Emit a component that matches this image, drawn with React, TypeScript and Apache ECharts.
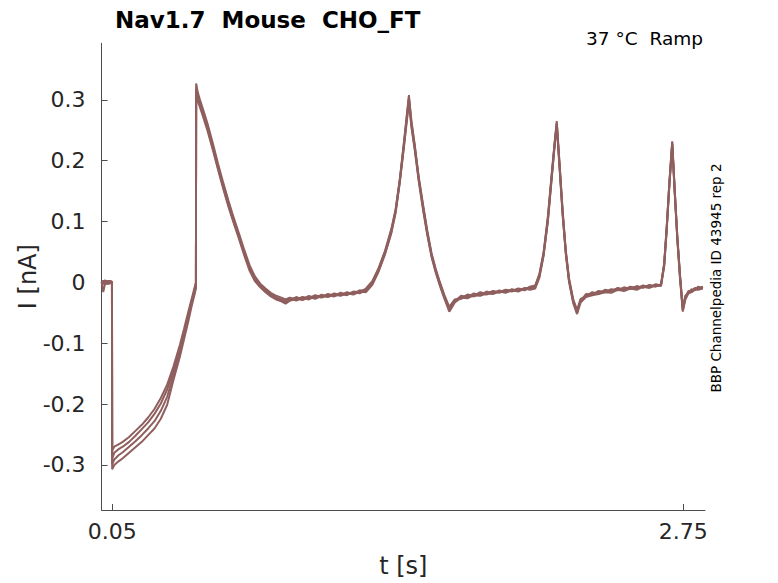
import React, { useEffect, useRef } from "react";
import * as echarts from "echarts";

const T = [
  0, 0.008, 0.016, 0.024, 0.032, 0.04, 0.049,
  0.05,
  0.06, 0.08, 0.10, 0.13, 0.16, 0.19, 0.22, 0.25, 0.28, 0.31, 0.34, 0.37, 0.39, 0.41, 0.425, 0.44, 0.446,
  0.447,
  0.455, 0.465, 0.48, 0.50, 0.525, 0.55, 0.575, 0.60, 0.625, 0.65, 0.675, 0.70, 0.725, 0.75, 0.775, 0.80, 0.825, 0.85, 0.87,
  0.89, 0.92, 0.95, 0.98, 1.01, 1.04, 1.07, 1.10, 1.13, 1.16, 1.19, 1.22, 1.25,
  1.28, 1.31, 1.34, 1.37, 1.39, 1.41, 1.43, 1.453, 1.465, 1.48, 1.50, 1.52, 1.54, 1.56, 1.58, 1.60, 1.62, 1.644,
  1.67, 1.70, 1.73, 1.76, 1.79, 1.82, 1.85, 1.88, 1.91, 1.94, 1.97, 2.00, 2.025,
  2.05, 2.07, 2.09, 2.11, 2.128, 2.142, 2.152, 2.165, 2.18, 2.195, 2.21, 2.23, 2.248,
  2.265, 2.29, 2.32, 2.35, 2.38, 2.41, 2.44, 2.47, 2.50, 2.53, 2.56, 2.59, 2.62, 2.645,
  2.66, 2.672, 2.684, 2.698, 2.71, 2.722, 2.735, 2.748,
  2.76, 2.775, 2.79, 2.805, 2.82, 2.843,
];

const trace1 = [
  0.002, -0.003, 0.004, -0.001, 0.003, 0.000, 0.002,
  -0.276,
  -0.270, -0.266, -0.262, -0.254, -0.244, -0.234, -0.222, -0.208, -0.190, -0.168, -0.138, -0.103, -0.076, -0.048, -0.028, -0.008, 0.000,
  0.327,
  0.312, 0.300, 0.284, 0.262, 0.230, 0.196, 0.164, 0.134, 0.106, 0.080, 0.053, 0.028, 0.010, -0.002, -0.010, -0.017, -0.022, -0.025, -0.028,
  -0.025, -0.028, -0.024, -0.026, -0.021, -0.024, -0.019, -0.022, -0.017, -0.020, -0.015, -0.016, -0.010,
  0.002, 0.024, 0.052, 0.088, 0.120, 0.170, 0.232, 0.308, 0.265, 0.228, 0.172, 0.128, 0.085, 0.048, 0.022, 0.000, -0.020, -0.040,
  -0.028, -0.026, -0.020, -0.022, -0.016, -0.019, -0.014, -0.016, -0.012, -0.014, -0.010, -0.012, -0.007,
  -0.005, 0.014, 0.050, 0.108, 0.178, 0.230, 0.265, 0.198, 0.118, 0.052, 0.007, -0.028, -0.045,
  -0.027, -0.023, -0.016, -0.019, -0.012, -0.015, -0.009, -0.012, -0.007, -0.010, -0.005, -0.008, -0.003, -0.005,
  0.032, 0.092, 0.162, 0.232, 0.152, 0.077, 0.012, -0.042,
  -0.022, -0.017, -0.011, -0.013, -0.007, -0.009,
];

const trace2 = [
  -0.002, 0.003, -0.004, 0.002, -0.003, 0.002, -0.001,
  -0.289,
  -0.280, -0.274, -0.270, -0.262, -0.252, -0.241, -0.230, -0.216, -0.199, -0.176, -0.145, -0.110, -0.082, -0.053, -0.032, -0.012, -0.003,
  0.318,
  0.302, 0.296, 0.278, 0.256, 0.224, 0.190, 0.158, 0.128, 0.101, 0.075, 0.048, 0.023, 0.006, -0.005, -0.013, -0.020, -0.025, -0.028, -0.031,
  -0.029, -0.024, -0.028, -0.022, -0.026, -0.020, -0.023, -0.018, -0.021, -0.016, -0.019, -0.013, -0.014,
  -0.002, 0.020, 0.048, 0.083, 0.116, 0.166, 0.226, 0.300, 0.258, 0.222, 0.168, 0.122, 0.080, 0.044, 0.018, -0.004, -0.024, -0.044,
  -0.031, -0.022, -0.024, -0.018, -0.021, -0.015, -0.018, -0.013, -0.016, -0.011, -0.014, -0.009, -0.010,
  -0.008, 0.010, 0.046, 0.102, 0.172, 0.226, 0.260, 0.192, 0.112, 0.048, 0.003, -0.032, -0.048,
  -0.031, -0.019, -0.020, -0.014, -0.016, -0.011, -0.013, -0.008, -0.011, -0.006, -0.009, -0.004, -0.007, -0.003,
  0.028, 0.088, 0.158, 0.228, 0.148, 0.073, 0.008, -0.046,
  -0.026, -0.014, -0.015, -0.009, -0.011, -0.007,
];

const trace3 = [
  0.001, -0.016, -0.002, 0.003, -0.002, 0.003, 0.000,
  -0.299,
  -0.291, -0.284, -0.279, -0.270, -0.261, -0.251, -0.240, -0.228, -0.211, -0.188, -0.152, -0.116, -0.087, -0.058, -0.036, -0.015, -0.006,
  0.311,
  0.306, 0.292, 0.276, 0.254, 0.222, 0.189, 0.157, 0.127, 0.100, 0.074, 0.047, 0.022, 0.005, -0.006, -0.014, -0.021, -0.026, -0.029, -0.033,
  -0.026, -0.030, -0.025, -0.028, -0.023, -0.025, -0.021, -0.023, -0.019, -0.021, -0.016, -0.018, -0.013,
  0.000, 0.022, 0.050, 0.086, 0.118, 0.168, 0.230, 0.304, 0.262, 0.225, 0.170, 0.125, 0.082, 0.046, 0.020, -0.002, -0.022, -0.046,
  -0.029, -0.027, -0.021, -0.023, -0.019, -0.020, -0.015, -0.017, -0.013, -0.015, -0.011, -0.013, -0.008,
  -0.006, 0.012, 0.048, 0.105, 0.175, 0.228, 0.262, 0.195, 0.115, 0.050, 0.005, -0.030, -0.050,
  -0.029, -0.021, -0.018, -0.017, -0.013, -0.014, -0.010, -0.011, -0.009, -0.007, -0.008, -0.005, -0.006, -0.004,
  0.030, 0.090, 0.160, 0.230, 0.150, 0.075, 0.010, -0.044,
  -0.024, -0.015, -0.014, -0.010, -0.010, -0.008,
];

const trace4 = [
  -0.001, 0.002, 0.001, -0.003, 0.001, -0.002, 0.001,
  -0.307,
  -0.300, -0.294, -0.289, -0.280, -0.271, -0.262, -0.251, -0.240, -0.224, -0.201, -0.160, -0.122, -0.093, -0.064, -0.040, -0.019, -0.010,
  0.303,
  0.298, 0.288, 0.272, 0.250, 0.219, 0.186, 0.154, 0.124, 0.097, 0.071, 0.044, 0.019, 0.002, -0.008, -0.016, -0.023, -0.028, -0.031, -0.035,
  -0.030, -0.027, -0.029, -0.024, -0.027, -0.022, -0.024, -0.020, -0.022, -0.018, -0.020, -0.015, -0.016,
  -0.004, 0.018, 0.046, 0.081, 0.114, 0.164, 0.224, 0.296, 0.255, 0.219, 0.165, 0.119, 0.078, 0.042, 0.016, -0.006, -0.026, -0.048,
  -0.033, -0.025, -0.026, -0.021, -0.022, -0.018, -0.019, -0.015, -0.017, -0.013, -0.015, -0.010, -0.012,
  -0.010, 0.008, 0.044, 0.100, 0.170, 0.224, 0.257, 0.190, 0.110, 0.046, 0.001, -0.034, -0.052,
  -0.033, -0.024, -0.021, -0.019, -0.016, -0.017, -0.012, -0.014, -0.010, -0.012, -0.007, -0.009, -0.005, -0.006,
  0.026, 0.086, 0.156, 0.226, 0.146, 0.071, 0.006, -0.048,
  -0.028, -0.018, -0.016, -0.012, -0.012, -0.010,
];

const traces = [trace1, trace2, trace3, trace4];
const xTicks = [0.05, 2.75];
const yTicks = [-0.3, -0.2, -0.1, 0, 0.1, 0.2, 0.3];

const TITLE = "Nav1.7  Mouse  CHO_FT";
const SUBTITLE = "37 °C  Ramp";
const SIDE_NOTE = "BBP Channelpedia ID 43945 rep 2";

export default function App() {
  const ref = useRef<HTMLDivElement>(null);
  useEffect(() => {
    if (!ref.current) return;
    const chart = echarts.init(ref.current, null, { renderer: "svg" });
    const font = "DejaVu Sans";
    const axisColor = "#4d4d4d";
    const textColor = "#262626";
    chart.setOption({
      animation: false,
      backgroundColor: "#ffffff",
      textStyle: { fontFamily: font },
      title: {
        text: TITLE,
        left: 110,
        top: 3,
        textStyle: { fontFamily: font, fontSize: 23, fontWeight: "bold", color: "#000" },
      },
      grid: { left: 101.6, right: 73, top: 43.3, bottom: 70 },
      xAxis: {
        type: "value",
        min: 0,
        max: 2.853,
        name: "t [s]",
        nameLocation: "middle",
        nameGap: 44,
        nameMoveOverlap: false,
        nameTextStyle: { fontFamily: font, fontSize: 24, color: textColor },
        axisLine: { show: true, onZero: false, lineStyle: { color: axisColor, width: 1 } },
        axisTick: { show: true, inside: true, length: 6, customValues: xTicks, lineStyle: { color: axisColor } },
        axisLabel: {
          customValues: xTicks,
          margin: 10,
          fontFamily: font,
          fontSize: 22,
          color: textColor,
          formatter: (v: number) => v.toFixed(2),
        },
        splitLine: { show: false },
      },
      yAxis: {
        type: "value",
        min: -0.374,
        max: 0.393,
        name: "I [nA]",
        nameLocation: "middle",
        nameGap: 62,
        nameMoveOverlap: false,
        nameTextStyle: { fontFamily: font, fontSize: 24, color: textColor },
        axisLine: { show: true, onZero: false, lineStyle: { color: axisColor, width: 1 } },
        axisTick: { show: true, inside: true, length: 6, customValues: yTicks, lineStyle: { color: axisColor } },
        axisLabel: {
          customValues: yTicks,
          margin: 16,
          fontFamily: font,
          fontSize: 22,
          color: textColor,
          formatter: (v: number) => (Math.abs(v) < 1e-9 ? "0" : String(Math.round(v * 10) / 10)),
        },
        splitLine: { show: false },
      },
      graphic: [
        {
          type: "text",
          right: 75,
          top: 29,
          style: { text: SUBTITLE, fontFamily: font, fontSize: 18.5, fill: "#000" },
        },
        {
          type: "text",
          x: 716,
          y: 278,
          rotation: Math.PI / 2,
          style: {
            text: SIDE_NOTE,
            fontFamily: font,
            fontSize: 13.5,
            fill: "#000",
            align: "center",
            verticalAlign: "middle",
          },
        },
      ],
      series: traces.map((tr, i) => ({
        type: "line",
        name: "rep" + (i + 1),
        data: T.map((t, k) => [t, tr[k]]),
        showSymbol: false,
        symbol: "none",
        lineStyle: { color: "#8f5f5e", width: 2 },
        silent: true,
      })),
    });
    return () => chart.dispose();
  }, []);
  return (
    <div
      ref={ref}
      style={{ position: "fixed", left: 0, top: 0, width: 778, height: 583, background: "#fff" }}
    />
  );
}
